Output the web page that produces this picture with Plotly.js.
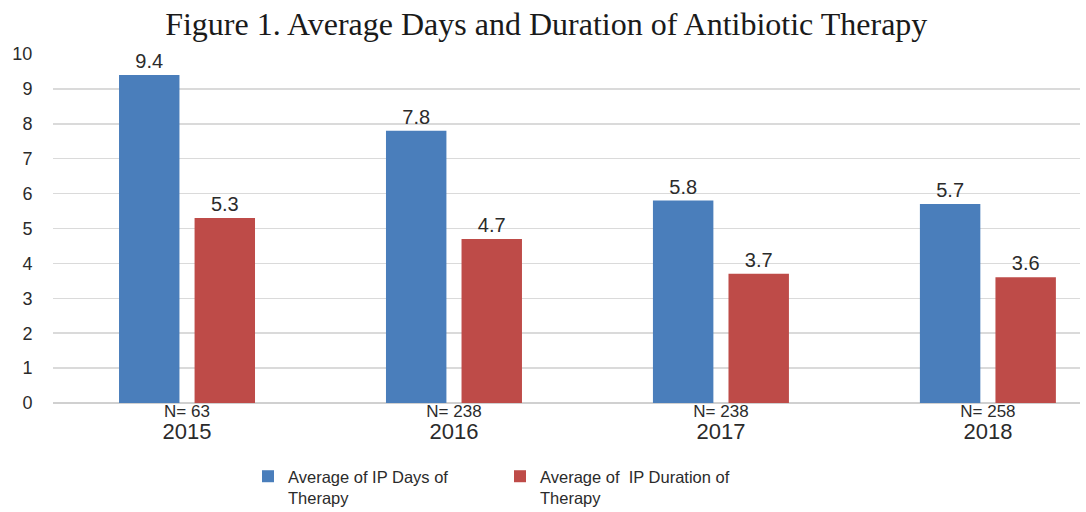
<!DOCTYPE html>
<html>
<head>
<meta charset="utf-8">
<script src="https://cdn.plot.ly/plotly-3.0.1.min.js"></script>
<style>html,body{margin:0;padding:0;background:#fff;}#chart{width:1086px;height:512px;}</style>
</head>
<body>
<div id="chart"></div>
<script>
const years = ["2015", "2016", "2017", "2018"];
const sampleSizes = ["N= 63", "N= 238", "N= 238", "N= 258"];
const ipDays = [9.4, 7.8, 5.8, 5.7];
const ipDuration = [5.3, 4.7, 3.7, 3.6];
const seriesNames = ["Average of IP Days of<br>Therapy", "Average of  IP Duration of<br>Therapy"];

const idx = years.map((_, i) => i);
const tickText = years.map((y, i) =>
  sampleSizes[i] + '<br><span style="font-size:22px">' + y + '</span>');

const sans = "Liberation Sans, Arial, sans-serif";
const labelFont = {family: sans, size: 20, color: "#2b2b2b"};

const traces = [
  {type: "bar", x: idx, y: ipDays, name: seriesNames[0],
   marker: {color: "#4A7EBB"},
   text: ipDays.map(v => v.toFixed(1)), textposition: "outside",
   textfont: labelFont, cliponaxis: false, hoverinfo: "y"},
  {type: "bar", x: idx, y: ipDuration, name: seriesNames[1],
   marker: {color: "#BE4B48"},
   text: ipDuration.map(v => v.toFixed(1)), textposition: "outside",
   textfont: labelFont, cliponaxis: false, hoverinfo: "y"}
];

const layout = {
  width: 1086, height: 512,
  margin: {l: 53, r: 6, t: 54, b: 109},
  paper_bgcolor: "#fff", plot_bgcolor: "#fff",
  title: {text: "Figure 1. Average Days and Duration of Antibiotic Therapy",
          font: {family: "Liberation Serif, Times New Roman, serif", size: 32, color: "#1a1a1a"},
          x: 0.503, xanchor: "center", xref: "container",
          y: 1 - 24 / 512, yanchor: "middle", yref: "container"},
  barmode: "group", bargap: 0.434, bargroupgap: 0.2,
  xaxis: {
    range: [-0.502, 3.345], tickmode: "array", tickvals: idx, ticktext: tickText,
    tickfont: {family: sans, size: 17, color: "#2b2b2b"},
    showgrid: false, zeroline: false, showline: false, ticks: "", ticklen: 0,
    ticklabelstandoff: -4, automargin: false,
    fixedrange: true
  },
  yaxis: {
    range: [0, 10], dtick: 1, tick0: 0,
    showgrid: true, gridcolor: "#DADADA", gridwidth: 1.5,
    zeroline: true, zerolinecolor: "#D0D0D0", zerolinewidth: 1.5,
    ticks: "outside", ticklen: 16, tickcolor: "rgba(0,0,0,0)",
    tickfont: {family: sans, size: 18, color: "#2b2b2b"},
    automargin: false, fixedrange: true
  },
  showlegend: true,
  legend: {orientation: "h", xref: "container", x: 248 / 1086, xanchor: "left",
           yref: "container", y: 1 - 459 / 512, yanchor: "top",
           valign: "top", traceorder: "normal",
           font: {family: sans, size: 16.5, color: "#2b2b2b"},
           entrywidth: 207, entrywidthmode: "pixels",
           bgcolor: "rgba(0,0,0,0)"}
};

Plotly.newPlot("chart", traces, layout, {displayModeBar: false, staticPlot: true});
</script>
</body>
</html>
